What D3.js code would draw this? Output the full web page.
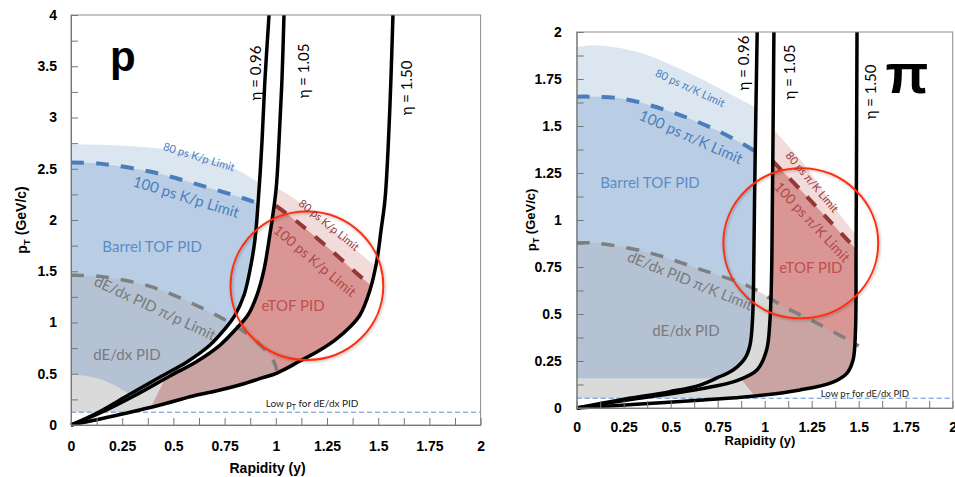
<!DOCTYPE html>
<html>
<head>
<meta charset="utf-8">
<script src="https://cdn.jsdelivr.net/npm/d3@7"></script>
<style>
  body { margin: 0; background: #fff; }
  svg { display: block; }
  .tick text { font: bold 14px "Liberation Sans", Arial, sans-serif; fill: #000; }
</style>
</head>
<body>
<div id="wrapper"></div>
<script>
// values are [rapidity y, pT in GeV/c]

// proton panel
const protonEta096 = [[0,0],[0.127,0.117],[0.264,0.273],[0.435,0.468],[0.566,0.615],[0.679,0.78],[0.747,0.927],[0.801,1.073],[0.845,1.268],[0.874,1.512],[0.898,1.805],[0.918,2.293],[0.933,2.78],[0.947,3.366],[0.967,4.0]]
const protonEta105 = [[0,0],[0.142,0.117],[0.298,0.273],[0.483,0.478],[0.61,0.615],[0.728,0.78],[0.801,0.927],[0.864,1.073],[0.908,1.268],[0.942,1.512],[0.967,1.805],[1.001,2.293],[1.016,2.78],[1.03,3.366],[1.04,4.0]]
const protonEta150 = [[0,0],[0.142,0.059],[0.273,0.117],[0.435,0.195],[0.596,0.283],[0.728,0.341],[0.84,0.4],[0.933,0.459],[1.006,0.507],[1.118,0.624],[1.216,0.732],[1.289,0.829],[1.362,0.956],[1.411,1.073],[1.46,1.317],[1.494,1.61],[1.514,1.902],[1.533,2.195],[1.548,2.683],[1.562,3.366],[1.572,4.0]]
const protonTof80 = [[0,2.74],[0.3,2.72],[0.55,2.66],[0.79,2.51],[0.913,2.37],[1.0,2.28]]
const protonTof100 = [[0,2.56],[0.14,2.55],[0.39,2.47],[0.63,2.34],[0.86,2.2],[1.0,2.1]]
const protonTofLow = [[0,0.49],[0.1,0.47],[0.2,0.4],[0.3,0.29],[0.4,0.19],[0.5,0.125],[1.0,0.125]]
const protonDedx = [[0,1.46],[0.14,1.45],[0.39,1.35],[0.63,1.15],[0.8,0.97],[0.92,0.79],[0.99,0.62],[1.005,0.53]]
const protonEtof80 = [[1.0,2.32],[1.12,2.17],[1.28,1.9],[1.45,1.61],[1.6,1.37]]
const protonEtof100 = [[1.0,2.14],[1.1,1.99],[1.25,1.74],[1.43,1.42],[1.6,1.15]]
const protonEtofEdge = [[0.36,0],[0.39,0.17],[0.46,0.45]]
const protonLowPt = 0.125
const protonCircle = { cx: 1.152, cy: 1.358, rx: 0.373, ry: 0.724 }

// pion panel
const pionEta096 = [[0,0],[0.23,0.043],[0.496,0.087],[0.656,0.122],[0.746,0.16],[0.832,0.202],[0.896,0.266],[0.922,0.335],[0.935,0.468],[0.941,0.681],[0.946,1.106],[0.954,1.638],[0.96,2.0]]
const pionEta105 = [[0,0],[0.321,0.05],[0.672,0.104],[0.853,0.146],[0.959,0.202],[1.01,0.309],[1.028,0.468],[1.036,0.681],[1.041,1.106],[1.046,1.638],[1.049,2.0]]
const pionEta150 = [[0,0],[0.337,0.021],[0.672,0.043],[0.922,0.061],[1.188,0.096],[1.363,0.138],[1.438,0.186],[1.47,0.255],[1.483,0.415],[1.486,0.84],[1.491,2.0]]
const pionTof80 = [[0,1.92],[0.1,1.93],[0.32,1.895],[0.58,1.79],[0.76,1.70],[0.95,1.6],[1.0,1.57]]
const pionTof100 = [[0,1.656],[0.23,1.647],[0.5,1.576],[0.76,1.47],[0.95,1.365],[1.0,1.33]]
const pionTofLow = [[0,0.158],[1.0,0.158]]
const pionDedx = [[0,0.879],[0.1,0.877],[0.37,0.83],[0.65,0.74],[0.92,0.645],[1.1,0.54],[1.28,0.45],[1.46,0.353],[1.5,0.33]]
const pionEtof80 = [[1.04,1.49],[1.19,1.32],[1.28,1.2],[1.37,1.07],[1.5,0.9]]
const pionEtof100 = [[1.04,1.316],[1.2,1.15],[1.35,0.99],[1.5,0.83]]
const pionEtofEdge = [[0.98,0],[0.96,0.05],[0.87,0.16],[0.8,0.25]]
const pionLowPt = 0.052
const pionCircle = { cx: 1.192, cy: 0.876, rx: 0.412, ry: 0.399 }

// ticks
const xTicks = d3.range(0, 2.001, 0.125)
const protonYTicks = d3.range(0, 4.001, 0.25)
const pionYTicks = d3.range(0, 2.001, 0.125)

const colors = {
  blueLight: "#dce6f1", blue: "#b9cde5", blueGray: "#b5c2d3",
  gray: "#dadada", pinkLight: "#f2dcdb", pink: "#d99694", pinkGray: "#c9a4a2",
  blueLine: "#4a7ebb", grayLine: "#7f7f7f", redLine: "#953735", circle: "#ff2d0d"
}
const labelFont = "Lato, 'Open Sans', sans-serif"
const boldFont = "'Liberation Sans', Arial, sans-serif"

const svg = d3.select("#wrapper").append("svg")
    .attr("width", 955)
    .attr("height", 477)
const defs = svg.append("defs")
const shadow = defs.append("filter").attr("id", "shadow")
    .attr("x", "-10%").attr("y", "-10%").attr("width", "120%").attr("height", "120%")
shadow.append("feDropShadow")
    .attr("dx", 1).attr("dy", 1).attr("stdDeviation", 1.5)
    .attr("flood-color", "#000").attr("flood-opacity", 0.3)

function addText(g, x, y, l) {
  const t = g.append("text")
      .attr("transform", `translate(${x(l.x)},${y(l.y)}) rotate(${l.a || 0})`)
      .attr("text-anchor", l.anchor || "middle")
      .attr("dy", l.base ? 0 : "0.35em")
      .style("font-family", l.font || labelFont)
      .style("font-size", l.size + "px")
      .style("font-weight", l.weight || "normal")
      .attr("fill", l.color || "#000")
  // "_T" marks a subscript T
  const parts = l.t.split("_T")
  parts.forEach((s, i) => {
    if (i > 0) {
      t.append("tspan").attr("dy", "0.3em").style("font-size", (l.size * 0.7) + "px").text("T")
      t.append("tspan").attr("dy", "-0.3em").text(s)
    } else {
      t.append("tspan").text(s)
    }
  })
}

function drawPanel(cfg) {
  const x = d3.scaleLinear().domain([0, 2]).range(cfg.xRange)
  const y = d3.scaleLinear().domain([0, cfg.yMax]).range(cfg.yRange)
  const pt = d => [x(d[0]), y(d[1])]
  const straight = d3.line().x(d => x(d[0])).y(d => y(d[1]))
  const smooth = d3.line().x(d => x(d[0])).y(d => y(d[1]))
      .curve(d3.curveCatmullRom.alpha(0.5))
  const cont = pts => pts.map(d => "L" + pt(d).join(",")).join("")
  const band = (top, bottom) => smooth(top)
    + smooth(bottom.slice().reverse()).replace(/^M/, "L") + "Z"
  const under = c => smooth(c)
    + cont([[c[c.length - 1][0], 0], [0, 0], [0, c[0][1]]]) + "Z"

  const id = cfg.id
  const url = s => `url(#${id}-${s})`
  const clip = (name, ds) => {
    const cp = defs.append("clipPath").attr("id", `${id}-${name}`)
    ds.forEach(d => cp.append("path").attr("d", d))
  }
  const barrelPath = smooth(cfg.eta096) + cont([[0, cfg.yMax], [0, 0]]) + "Z"
  const etofPath = band(cfg.eta105, cfg.eta150)
  const edge = cfg.etofEdge
  clip("barrel", [barrelPath])
  clip("etof", [etofPath])
  clip("mask", [straight(edge)
    + cont([[edge[edge.length - 1][0], cfg.yMax], [2, cfg.yMax], [2, 0]]) + "Z"])
  clip("dedx", cfg.dedxInGap
    ? [smooth(cfg.eta150) + cont([[0, cfg.yMax], [0, 0]]) + "Z"]
    : [barrelPath, etofPath])

  const dedxEnd = cfg.dedx[cfg.dedx.length - 1][0]
  const dedxBand = band(cfg.dedx, [[0, cfg.lowPt], [dedxEnd, cfg.lowPt]])

  const g = svg.append("g")

  // dE/dx reach over white
  g.append("path").attr("d", dedxBand).attr("fill", colors.gray)
      .attr("clip-path", url("dedx"))

  // barrel TOF
  const barrel = g.append("g").attr("clip-path", url("barrel"))
  barrel.append("path").attr("d", band(cfg.tof80, cfg.tofLow)).attr("fill", colors.blueLight)
  barrel.append("path").attr("d", band(cfg.tof100, cfg.tofLow)).attr("fill", colors.blue)
  barrel.append("path").attr("d", band(cfg.dedx, cfg.tofLow)).attr("fill", colors.blueGray)
  barrel.append("path").attr("d", smooth(cfg.tof100))
      .attr("fill", "none").attr("stroke", colors.blueLine)
      .attr("stroke-width", 4).attr("stroke-dasharray", "13,12")

  // endcap TOF
  const etof = g.append("g").attr("clip-path", url("etof"))
    .append("g").attr("clip-path", url("mask"))
  etof.append("path").attr("d", under(cfg.etof80)).attr("fill", colors.pinkLight)
  etof.append("path").attr("d", under(cfg.etof100)).attr("fill", colors.pink)
  etof.append("path").attr("d", dedxBand).attr("fill", colors.pinkGray)
  etof.append("path").attr("d", smooth(cfg.etof100))
      .attr("fill", "none").attr("stroke", colors.redLine)
      .attr("stroke-width", 4).attr("stroke-dasharray", "13,12")

  // dE/dx limit
  g.append("path").attr("d", smooth(cfg.dedx))
      .attr("fill", "none").attr("stroke", colors.grayLine)
      .attr("stroke-width", 3.5).attr("stroke-dasharray", "13,12")

  // low pT line
  g.append("path").attr("d", straight([[0, cfg.lowPt], [2, cfg.lowPt]]))
      .attr("fill", "none").attr("stroke", "#5b8fd0")
      .attr("stroke-width", 1).attr("stroke-dasharray", "5,3")

  // eta curves
  g.selectAll(".eta")
    .data([cfg.eta096, cfg.eta105, cfg.eta150])
    .join("path")
      .attr("class", "eta")
      .attr("d", smooth)
      .attr("fill", "none").attr("stroke", "#000").attr("stroke-width", 3.5)

  // highlight circle
  const c = cfg.circle
  g.append("ellipse")
      .attr("cx", x(c.cx)).attr("cy", y(c.cy))
      .attr("rx", x(c.rx) - x(0)).attr("ry", y(0) - y(c.ry))
      .attr("fill", "none").attr("stroke", colors.circle).attr("stroke-width", 2)
      .attr("filter", "url(#shadow)")

  // frame and axes
  g.append("rect")
      .attr("x", x(0)).attr("y", y(cfg.yMax))
      .attr("width", x(2) - x(0)).attr("height", y(0) - y(cfg.yMax))
      .attr("fill", "none").attr("stroke", "#8c8c8c")

  const xAxis = g.append("g")
      .attr("transform", `translate(0,${y(0)})`)
      .call(d3.axisBottom(x).tickValues(xTicks)
        .tickSizeInner(-7).tickSizeOuter(0).tickPadding(cfg.xPad)
        .tickFormat(d => (d * 4) % 1 === 0 ? String(d) : ""))
  const yAxis = g.append("g")
      .attr("transform", `translate(${x(0)},0)`)
      .call(d3.axisLeft(y).tickValues(cfg.yTicks)
        .tickSizeInner(-7).tickSizeOuter(0).tickPadding(cfg.yPad)
        .tickFormat(d => (d / cfg.yLabelStep) % 1 === 0 ? String(d) : ""))
  g.selectAll(".domain, .tick line").attr("stroke", "#777")

  // axis titles
  g.append("text")
      .attr("x", x(cfg.xTitleAt)).attr("y", y(0) + cfg.xTitleDy)
      .attr("text-anchor", "middle")
      .style("font", `bold ${cfg.titleSize}px ${boldFont}`)
      .text("Rapidity (y)")
  const yt = g.append("text")
      .attr("transform", `translate(${cfg.yTitleX},${y(cfg.yTitleAt)}) rotate(-90)`)
      .attr("text-anchor", "middle")
      .style("font", `bold ${cfg.titleSize}px ${boldFont}`)
  yt.append("tspan").text("p")
  yt.append("tspan").attr("dy", "0.3em").style("font-size", (cfg.titleSize * 0.7) + "px").text("T")
  yt.append("tspan").attr("dy", "-0.3em").text(" (GeV/c)")

  cfg.labels.forEach(l => addText(g, x, y, l))
}

drawPanel({
  id: "proton",
  xRange: [71, 480.6], yRange: [425, 15], yMax: 4,
  eta096: protonEta096, eta105: protonEta105, eta150: protonEta150,
  tof80: protonTof80, tof100: protonTof100, tofLow: protonTofLow,
  dedx: protonDedx, etof80: protonEtof80, etof100: protonEtof100,
  etofEdge: protonEtofEdge, lowPt: protonLowPt, circle: protonCircle,
  dedxInGap: false,
  yTicks: protonYTicks, yLabelStep: 0.5, xPad: 16, yPad: 14,
  xTitleAt: 0.96, xTitleDy: 48, yTitleX: 27, yTitleAt: 2.0, titleSize: 14,
  labels: [
    { t: "p", x: 0.19, y: 3.45, size: 42, weight: "bold", font: boldFont, anchor: "start", base: true },
    { t: "η = 0.96", x: 0.903, y: 3.434, a: -90, size: 15 },
    { t: "η = 1.05", x: 1.138, y: 3.454, a: -90, size: 15 },
    { t: "η = 1.50", x: 1.641, y: 3.288, a: -90, size: 15 },
    { t: "80 ps K/p Limit", x: 0.625, y: 2.615, a: 17, size: 11, color: colors.blueLine },
    { t: "100 ps K/p Limit", x: 0.562, y: 2.224, a: 17, size: 15, color: colors.blueLine },
    { t: "Barrel TOF PID", x: 0.396, y: 1.737, size: 15, color: "#5b8cc8" },
    { t: "dE/dx PID π/p Limit", x: 0.41, y: 1.141, a: 25, size: 15, color: "#7a7a7a" },
    { t: "dE/dx PID", x: 0.273, y: 0.683, size: 15, color: "#7a7a7a" },
    { t: "80 ps K/p Limit", x: 1.26, y: 1.951, a: 39, size: 11, color: colors.redLine },
    { t: "100 ps K/p Limit", x: 1.191, y: 1.6, a: 40, size: 14, color: "#b04a48" },
    { t: "eTOF PID", x: 1.084, y: 1.161, size: 15, color: "#c0504d" },
    { t: "Low p_T for dE/dx PID", x: 1.177, y: 0.205, size: 10, color: "#222" }
  ]
})

drawPanel({
  id: "pion",
  xRange: [576.7, 952.7], yRange: [408, 32], yMax: 2,
  eta096: pionEta096, eta105: pionEta105, eta150: pionEta150,
  tof80: pionTof80, tof100: pionTof100, tofLow: pionTofLow,
  dedx: pionDedx, etof80: pionEtof80, etof100: pionEtof100,
  etofEdge: pionEtofEdge, lowPt: pionLowPt, circle: pionCircle,
  dedxInGap: true,
  yTicks: pionYTicks, yLabelStep: 0.25, xPad: 14, yPad: 15,
  xTitleAt: 0.975, xTitleDy: 37, yTitleX: 536, yTitleAt: 1.0, titleSize: 13,
  labels: [
    { t: "π", x: 1.757, y: 1.676, size: 56, weight: "bold", font: boldFont, base: true },
    { t: "η = 0.96", x: 0.89, y: 1.835, a: -90, size: 15 },
    { t: "η = 1.05", x: 1.135, y: 1.787, a: -90, size: 15 },
    { t: "η = 1.50", x: 1.565, y: 1.681, a: -90, size: 15 },
    { t: "80 ps π/K Limit", x: 0.603, y: 1.702, a: 25, size: 11, color: colors.blueLine },
    { t: "100 ps π/K Limit", x: 0.608, y: 1.441, a: 24, size: 15, color: colors.blueLine },
    { t: "Barrel TOF PID", x: 0.39, y: 1.197, size: 15, color: "#5b8cc8" },
    { t: "dE/dx PID π/K Limit", x: 0.603, y: 0.676, a: 22, size: 15, color: "#7a7a7a" },
    { t: "dE/dx PID", x: 0.581, y: 0.41, size: 15, color: "#7a7a7a" },
    { t: "80 ps π/K Limit", x: 1.252, y: 1.202, a: 50, size: 11, color: colors.redLine },
    { t: "100 ps π/K Limit", x: 1.252, y: 0.989, a: 47, size: 14, color: "#b04a48" },
    { t: "eTOF PID", x: 1.246, y: 0.745, size: 15, color: "#c0504d" },
    { t: "Low p_T for dE/dx PID", x: 1.533, y: 0.074, size: 9.5, color: "#222" }
  ]
})
</script>
</body>
</html>
